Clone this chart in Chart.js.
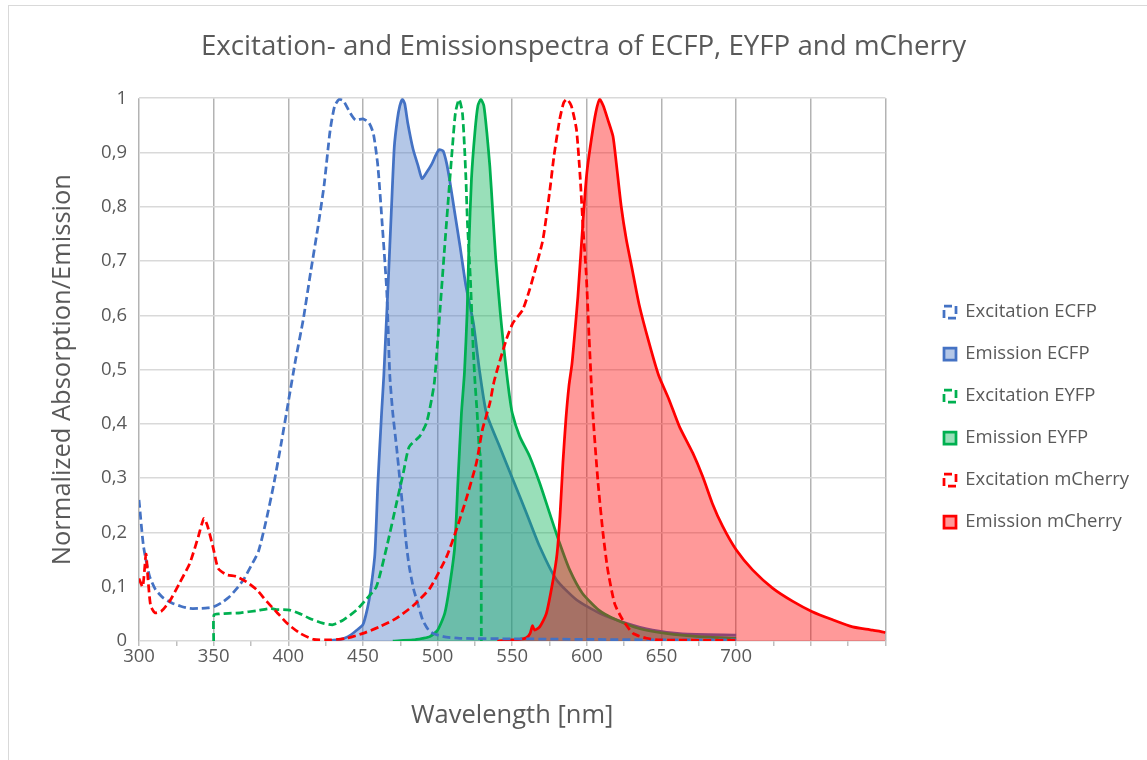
<!DOCTYPE html>
<html>
<head>
<meta charset="utf-8">
<script src="https://cdn.jsdelivr.net/npm/chart.js@4.4.1/dist/chart.umd.min.js"></script>
<style>
  html, body { margin: 0; padding: 0; background: #fff; overflow: hidden; }
  #frame { position: absolute; left: 8px; top: 5px; width: 1300px; height: 900px; border: 1px solid #d9d9d9; }
  #chart { position: absolute; left: 0; top: 0; }
</style>
</head>
<body>
<div id="frame"></div>
<canvas id="chart" width="1147" height="760"></canvas>
<script>
// spectra: wavelength (nm) and normalized value
const ecfpExNm  = [300, 303, 307, 311, 316, 322, 328, 334, 340, 346, 350, 355, 360, 365, 370, 375, 380, 385, 390, 395, 400, 405, 410, 415, 420, 424, 428, 431, 434, 437, 441, 445, 450, 454, 457, 460, 463, 466, 468, 470, 472.5, 475, 477, 479, 481, 484, 486, 490, 494, 497, 504, 515, 550, 600, 650, 700];
const ecfpExVal = [0.26, 0.175, 0.12, 0.095, 0.08, 0.07, 0.064, 0.06, 0.06, 0.061, 0.063, 0.07, 0.08, 0.095, 0.113, 0.138, 0.165, 0.22, 0.285, 0.36, 0.44, 0.52, 0.592, 0.68, 0.765, 0.84, 0.94, 0.985, 0.998, 0.995, 0.975, 0.96, 0.962, 0.955, 0.935, 0.875, 0.765, 0.642, 0.49, 0.42, 0.358, 0.29, 0.236, 0.18, 0.137, 0.095, 0.076, 0.039, 0.02, 0.014, 0.008, 0.005, 0.004, 0.003, 0.002, 0.002];

const ecfpEmNm  = [425, 435, 440, 445, 450, 453, 455, 458, 460, 462.5, 464, 467, 469, 471, 473, 474.7, 476.5, 478, 480, 483.6, 487, 489.6, 492.6, 496, 498.8, 501, 503.7, 506, 508, 511.5, 515, 519, 524, 528, 532.7, 541.6, 550.5, 559.5, 568.4, 579.6, 593, 608.6, 626, 644, 664, 700];
const ecfpEmVal = [0, 0.003, 0.008, 0.018, 0.03, 0.06, 0.09, 0.16, 0.29, 0.42, 0.49, 0.665, 0.79, 0.91, 0.96, 0.986, 0.998, 0.99, 0.955, 0.906, 0.875, 0.852, 0.863, 0.878, 0.895, 0.905, 0.903, 0.881, 0.851, 0.789, 0.728, 0.654, 0.586, 0.5, 0.42, 0.358, 0.297, 0.236, 0.174, 0.113, 0.076, 0.051, 0.033, 0.02, 0.013, 0.011];

const eyfpExNm  = [350, 350.2, 354, 360, 368, 379, 388, 392, 401, 408, 414, 423, 430, 437, 445.7, 452, 459, 466, 472.5, 477, 481, 488, 492.6, 496, 498, 501.5, 504.8, 507.7, 510, 512, 514.4, 516.6, 518, 519, 520, 522, 523.8, 525, 526.5, 527.8, 529, 529.3];
const eyfpExVal = [0, 0.048, 0.05, 0.051, 0.052, 0.056, 0.06, 0.058, 0.057, 0.05, 0.042, 0.033, 0.03, 0.039, 0.057, 0.076, 0.1, 0.174, 0.254, 0.309, 0.358, 0.377, 0.402, 0.445, 0.48, 0.605, 0.728, 0.832, 0.912, 0.974, 0.998, 0.974, 0.912, 0.851, 0.771, 0.666, 0.543, 0.48, 0.42, 0.358, 0.33, 0];

const eyfpEmNm  = [470, 483.6, 490, 494.8, 500, 504.8, 508, 511.5, 513.7, 516, 518, 519.8, 521, 522.7, 525, 527, 529, 531, 533, 535, 537, 539, 542, 544, 546, 548, 550, 555, 561.7, 568.4, 575, 581.8, 588.5, 597, 608, 619.7, 635, 653, 675, 700];
const eyfpEmVal = [0, 0.002, 0.005, 0.008, 0.02, 0.051, 0.1, 0.174, 0.297, 0.42, 0.494, 0.605, 0.728, 0.851, 0.937, 0.986, 0.998, 0.986, 0.937, 0.875, 0.789, 0.703, 0.605, 0.55, 0.5, 0.455, 0.42, 0.377, 0.34, 0.291, 0.236, 0.18, 0.131, 0.088, 0.057, 0.039, 0.023, 0.014, 0.008, 0.005];

const mchExNm  = [300, 302.5, 304.7, 306, 307.8, 310.7, 315, 320.7, 327, 334, 339.7, 343.5, 346, 350, 353, 358.7, 365, 372, 379, 385.5, 392, 399, 408, 417, 428, 439, 450, 461, 472.5, 483.6, 494.8, 506, 512.6, 519, 526, 530, 535, 538, 546, 550.5, 557, 561.7, 566, 570.6, 575, 578, 581.8, 584.5, 586.7, 589.6, 593, 595.6, 597.5, 599.5, 601.5, 604, 607.5, 610.8, 614, 618.6, 624, 631, 640, 649, 700];
const mchExVal = [0.115, 0.1, 0.16, 0.115, 0.065, 0.052, 0.055, 0.074, 0.106, 0.143, 0.192, 0.226, 0.211, 0.168, 0.134, 0.122, 0.119, 0.109, 0.094, 0.073, 0.054, 0.033, 0.014, 0.003, 0.002, 0.005, 0.014, 0.026, 0.042, 0.065, 0.097, 0.155, 0.205, 0.26, 0.328, 0.389, 0.438, 0.48, 0.555, 0.586, 0.61, 0.648, 0.69, 0.74, 0.826, 0.894, 0.961, 0.992, 0.998, 0.986, 0.943, 0.851, 0.758, 0.68, 0.56, 0.42, 0.291, 0.199, 0.131, 0.069, 0.039, 0.014, 0.005, 0.002, 0.001];

const mchEmNm  = [540, 550, 555, 559.5, 562, 563.5, 565, 568.4, 572.9, 577.4, 580, 582, 584, 586, 588, 590, 592, 594, 597.5, 600, 603, 606, 608.6, 611, 614, 617.5, 619.7, 623, 626.4, 630, 635, 641.6, 648, 655, 662, 671, 677.6, 684, 691, 700, 711, 724.6, 738, 751, 764.7, 778, 791.5, 800, 800.01];
const mchEmVal = [0, 0.002, 0.003, 0.006, 0.014, 0.028, 0.02, 0.026, 0.051, 0.113, 0.16, 0.23, 0.33, 0.41, 0.47, 0.51, 0.57, 0.635, 0.777, 0.863, 0.924, 0.974, 0.998, 0.986, 0.961, 0.93, 0.881, 0.801, 0.74, 0.69, 0.62, 0.55, 0.49, 0.445, 0.395, 0.346, 0.303, 0.254, 0.211, 0.168, 0.131, 0.097, 0.073, 0.054, 0.039, 0.026, 0.02, 0.015, 0];

const xLabelled = [300, 350, 400, 450, 500, 550, 600, 650, 700];

const BLUE = '#4472C4', GREEN = '#00B050', RED = '#FF0000';
const TEXT = '#595959';
const FONT = "'Open Sans', sans-serif";

function pts(nm, val) {
    return nm.map((x, i) => ({ x: x, y: val[i] }));
}

function excitation(label, nm, val, color, order) {
    return { label, data: pts(nm, val), borderColor: color, backgroundColor: '#ffffff',
             borderDash: [8, 4], borderWidth: 2.75, fill: false, order };
}

function emission(label, nm, val, color, fillColor, order) {
    return { label, data: pts(nm, val), borderColor: color, backgroundColor: fillColor,
             borderWidth: 2.75, fill: 'origin', order };
}

// puts title and legend where Excel had them
const layoutNudge = {
    id: 'layoutNudge',
    afterLayout(chart) {
        const t = chart.titleBlock;
        t.left = 20;
        t.right = 1147;
        const lg = chart.legend;
        const dx = 944 - lg.options.labels.padding - lg.left;
        lg.left += dx;
        lg.right += dx;
        lg.top = 74;
    }
};

new Chart(document.getElementById('chart'), {
    type: 'line',
    data: {
        datasets: [
            excitation('Excitation ECFP', ecfpExNm, ecfpExVal, BLUE, 3),
            emission('Emission ECFP', ecfpEmNm, ecfpEmVal, BLUE, 'rgba(68,114,196,0.4)', 6),
            excitation('Excitation EYFP', eyfpExNm, eyfpExVal, GREEN, 2),
            emission('Emission EYFP', eyfpEmNm, eyfpEmVal, GREEN, 'rgba(0,176,80,0.4)', 5),
            excitation('Excitation mCherry', mchExNm, mchExVal, RED, 1),
            emission('Emission mCherry', mchEmNm, mchEmVal, RED, 'rgba(255,0,0,0.4)', 4)
        ]
    },
    options: {
        responsive: false,
        animation: false,
        devicePixelRatio: 1,
        layout: { padding: { left: 20, right: 43, top: 0, bottom: 0 } },
        elements: { point: { radius: 0 }, line: { tension: 0.2 } },
        plugins: {
            title: {
                display: true,
                text: 'Excitation- and Emissionspectra of ECFP, EYFP and mCherry',
                color: TEXT,
                font: { family: FONT, size: 27.7, weight: 'normal' },
                padding: { top: 30, bottom: 35 }
            },
            legend: {
                position: 'right',
                labels: {
                    color: TEXT,
                    font: { family: FONT, size: 18.5 },
                    boxWidth: 12,
                    boxHeight: 12,
                    padding: 23.5,
                    sort: (a, b) => a.datasetIndex - b.datasetIndex
                }
            },
            tooltip: { enabled: false }
        },
        scales: {
            x: {
                type: 'linear',
                min: 300,
                max: 800,
                ticks: {
                    stepSize: 25,
                    autoSkip: false,
                    maxRotation: 0,
                    color: TEXT,
                    font: { family: FONT, size: 18.5 },
                    padding: 0,
                    callback: v => xLabelled.includes(v) ? String(v) : ''
                },
                grid: {
                    color: c => (c.tick && c.tick.value % 50 === 0) ? '#b3b3b3' : 'rgba(0,0,0,0)',
                    tickColor: '#bfbfbf',
                    tickLength: 5,
                    lineWidth: 1.5
                },
                border: { display: false },
                title: { display: true, text: 'Wavelength [nm]', color: TEXT,
                         font: { family: FONT, size: 25.5 }, padding: { top: 0, bottom: 29 } },
                afterFit: s => { s.height = 119; }
            },
            y: {
                min: 0,
                max: 1,
                ticks: {
                    stepSize: 0.1,
                    color: TEXT,
                    font: { family: FONT, size: 18.5 },
                    padding: 12,
                    callback: v => Number(v.toFixed(1)).toString().replace('.', ',')
                },
                grid: { color: '#d9d9d9', lineWidth: 1.5, drawTicks: false },
                border: { display: false },
                title: { display: true, text: 'Normalized Absorption/Emission', color: TEXT,
                         font: { family: FONT, size: 25.5 }, padding: { top: 27, bottom: 0 } },
                afterFit: s => { s.width = 119; }
            }
        }
    },
    plugins: [layoutNudge]
});
</script>
</body>
</html>
